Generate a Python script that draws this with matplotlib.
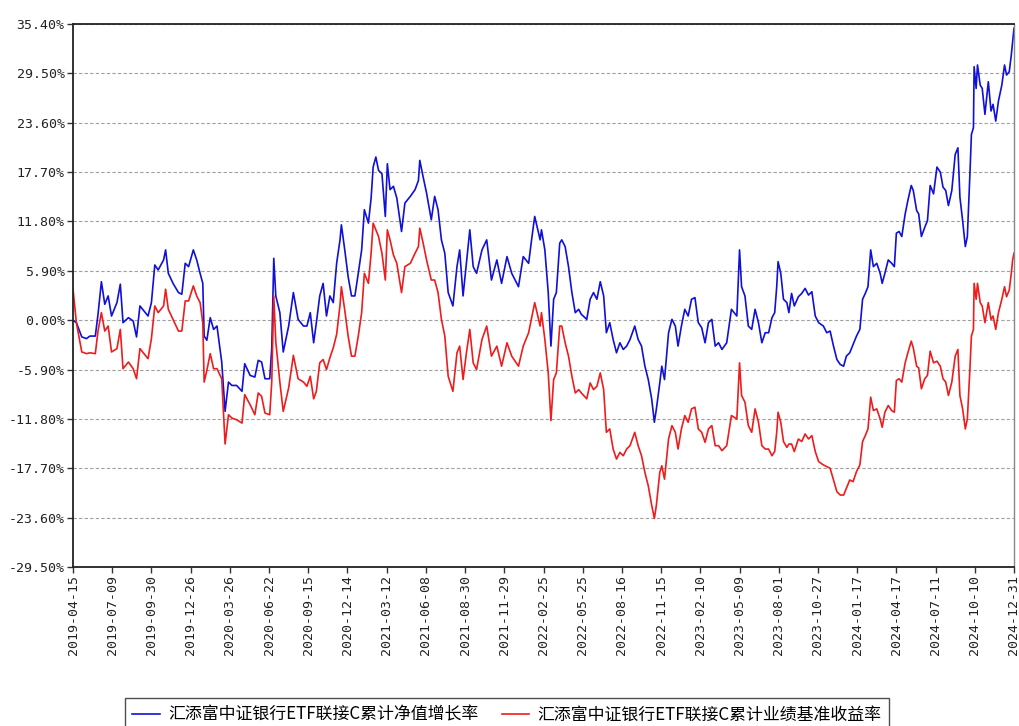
import numpy as np
import matplotlib.pyplot as plt
from matplotlib.ticker import FixedLocator, FuncFormatter

# trading-day index of each sample (0 = 2019-04-15, 1392 = 2024-12-31)
day = [0, 5, 13, 20, 25, 33, 37, 42, 47, 52, 57, 65, 70, 74, 82, 89, 94, 99, 107, 111,
       116, 121, 126, 134, 137, 141, 148, 156, 161, 166, 171, 178, 183, 188, 192, 194, 198, 203, 208, 213,
       220, 225, 230, 235, 242, 250, 254, 262, 269, 274, 279, 284, 291, 294, 297, 300, 306, 311, 319, 326,
       333, 341,
       346, 351, 356, 360, 365, 370, 375, 380, 385, 390, 395, 397, 402, 407, 412, 417, 422, 427, 431, 437,
       441, 444, 448, 452, 457, 462, 465, 469, 474, 479, 486, 491, 499, 506, 511, 513, 518, 523, 530, 535,
       540, 545, 550, 555, 562, 568, 572, 577, 582, 587, 592, 597, 605, 612, 619, 627, 634, 642, 649, 659,
       666, 674, 679, 683, 691,
       693, 698, 703, 707, 711, 715, 720, 723, 728, 733, 738, 743, 748, 752, 760, 765, 770, 775, 780, 785,
       789, 794, 799, 804, 809, 814, 819, 824, 831, 836, 841, 846, 851, 856, 860, 863, 868, 871, 875, 881,
       886, 891, 895, 900, 905, 910, 915, 920, 925, 930, 935, 940, 945, 950, 955, 960, 967, 974, 982, 986,
       989, 994, 999, 1004, 1009, 1014, 1019, 1024, 1029, 1034,
       1038, 1041, 1043, 1047, 1051, 1056, 1059, 1063, 1067, 1073, 1078, 1083, 1088, 1093, 1098, 1103, 1110, 1115, 1120, 1125,
       1130, 1135, 1140, 1144, 1149, 1154, 1159, 1164, 1168, 1172, 1176, 1180, 1184, 1189, 1194, 1197, 1201, 1206, 1211, 1215,
       1218, 1222, 1226, 1231, 1235, 1240, 1243, 1248, 1251, 1255, 1260, 1264, 1268, 1273, 1278, 1283, 1287, 1291, 1295, 1300,
       1305, 1309, 1312, 1316, 1320, 1323, 1327, 1329, 1332, 1333, 1336, 1338, 1342, 1345, 1349, 1354, 1358, 1361, 1365, 1369,
       1374, 1378, 1381, 1385, 1388, 1390, 1392]

# 累计净值增长率 (%)
nav_growth = [0.0, -0.3, -2.0, -2.2, -1.9, -1.9, 0.7, 4.6, 1.9, 2.9, 0.5, 2.1, 4.3, -0.3, 0.3, -0.1, -2.0, 1.7, 0.9, 0.5,
              2.1, 6.6, 6.0, 7.2, 8.4, 5.6, 4.4, 3.3, 3.1, 6.8, 6.4, 8.4, 7.2, 5.6, 4.4, -1.9, -2.4, 0.3, -1.1, -0.7,
              -5.0, -10.9, -7.4, -7.8, -7.8, -8.5, -5.2, -6.6, -6.8, -4.8, -5.0, -7.0, -7.0, -3.4, 7.4, 2.9, 0.9, -3.8, -0.7, 3.3,
              0.1, -0.7,
              -0.7, 0.9, -2.7, -0.3, 2.9, 4.4, 0.5, 2.9, 2.1, 6.8, 9.6, 11.4, 8.4, 5.2, 2.9, 2.9, 5.6, 8.4, 13.2, 11.6,
              14.6, 18.3, 19.5, 17.9, 17.5, 12.4, 18.7, 15.6, 16.0, 14.6, 10.6, 14.0, 14.8, 15.6, 16.7, 19.1, 17.1, 15.2, 12.0, 14.8,
              13.2, 9.6, 8.0, 3.3, 1.7, 6.4, 8.4, 2.9, 6.8, 10.8, 6.4, 5.6, 8.4, 9.6, 4.8, 7.2, 4.4, 7.6, 5.6, 4.0,
              7.6, 6.8, 10.0, 12.4, 9.6,
              10.8, 8.4, 3.3, -3.1, 2.5, 3.3, 9.2, 9.6, 8.8, 6.4, 3.3, 0.9, 1.3, 0.7, 0.1, 2.5, 3.3, 2.5, 4.6, 2.9,
              -1.5, -0.3, -2.3, -3.9, -2.7, -3.5, -3.1, -2.3, -0.7, -2.3, -3.1, -5.5, -7.1, -9.4, -12.2, -10.6, -7.5, -5.5, -7.1, -1.5,
              0.1, -0.7, -3.1, -0.7, 1.3, 0.5, 2.5, 2.7, -0.3, -0.9, -2.7, -0.3, 0.1, -3.1, -2.7, -3.5, -2.7, 1.3, 0.5, 8.4,
              4.0, 2.9, -0.7, -1.1, 1.3, -0.3, -2.7, -1.5, -1.5, 0.3,
              0.9, 4.0, 7.0, 5.6, 2.5, 2.1, 0.9, 3.2, 1.7, 2.8, 3.2, 3.8, 3.0, 3.4, 0.5, -0.3, -0.7, -1.5, -1.3, -3.1,
              -4.7, -5.3, -5.5, -4.3, -3.9, -2.9, -1.9, -1.1, 2.5, 3.2, 4.0, 8.4, 6.4, 6.8, 5.6, 4.4, 5.6, 7.2, 6.8, 6.4,
              10.4, 10.6, 10.0, 12.7, 14.3, 16.1, 15.5, 13.1, 12.7, 10.0, 11.1, 11.9, 16.1, 15.1, 18.3, 17.7, 15.9, 15.5, 13.7, 15.5,
              19.8, 20.6, 14.7, 11.9, 8.8, 10.0, 17.9, 22.2, 23.0, 30.3, 27.7, 30.5, 28.1, 27.7, 24.6, 28.5, 25.0, 25.8, 23.8, 26.2,
              28.1, 30.5, 29.3, 29.7, 31.7, 33.3, 34.9]

# 累计业绩基准收益率 (%)
bench_return = [3.7, -0.3, -3.8, -4.0, -3.9, -4.0, -1.3, 0.9, -1.3, -0.7, -3.8, -3.4, -1.1, -5.8, -5.0, -5.8, -7.0, -3.4, -4.2, -4.6,
                -2.2, 1.7, 0.9, 1.7, 3.7, 1.3, 0.1, -1.3, -1.3, 2.3, 2.3, 4.1, 2.9, 2.1, -0.3, -7.4, -6.0, -4.0, -5.8, -5.8,
                -7.0, -14.8, -11.3, -11.7, -11.9, -12.3, -8.9, -10.1, -11.3, -8.7, -9.1, -11.1, -11.3, -7.4, 2.9, -2.6, -7.4, -10.9, -8.1, -4.2,
                -7.0, -7.4,
                -7.9, -6.7, -9.4, -8.5, -5.1, -4.7, -5.9, -4.5, -3.3, -1.7, 1.8, 4.0, 1.2, -1.9, -4.3, -4.3, -1.9, 0.9, 5.6, 4.4,
                8.0, 11.6, 10.8, 10.0, 8.0, 4.8, 10.8, 9.6, 7.8, 6.8, 3.3, 6.4, 6.8, 8.0, 8.8, 11.0, 9.2, 7.2, 4.8, 4.8,
                3.3, 0.1, -1.9, -6.7, -8.5, -3.9, -3.1, -7.1, -3.9, -1.1, -5.1, -5.9, -2.3, -0.7, -4.3, -3.1, -5.5, -2.7, -4.3, -5.5,
                -3.1, -1.5, 0.5, 2.1, -0.7,
                0.9, -2.3, -6.3, -12.0, -7.1, -6.3, -0.7, -0.7, -2.7, -4.3, -6.7, -8.7, -8.3, -8.7, -9.4, -7.5, -8.3, -7.9, -6.3, -8.3,
                -13.4, -13.0, -15.4, -16.6, -15.8, -16.2, -15.4, -15.0, -13.4, -15.0, -16.2, -18.2, -19.8, -22.1, -23.7, -22.1, -18.2, -17.4, -19.0, -14.2,
                -12.6, -13.4, -15.4, -13.0, -11.4, -12.2, -10.6, -10.4, -13.0, -13.4, -14.6, -13.0, -12.6, -15.0, -15.0, -15.6, -15.0, -11.4, -11.8, -5.1,
                -9.0, -9.8, -12.6, -13.4, -10.6, -12.2, -15.0, -15.4, -15.4, -16.2,
                -15.7, -13.4, -11.0, -12.2, -14.5, -15.2, -14.8, -14.8, -15.7, -14.2, -14.5, -13.6, -14.2, -13.8, -15.7, -16.9, -17.3, -17.5, -17.7, -19.1,
                -20.5, -20.9, -20.9, -20.1, -19.1, -19.3, -18.1, -17.3, -14.5, -13.8, -13.0, -9.2, -10.8, -10.6, -11.8, -12.8, -11.0, -10.2, -10.8, -11.0,
                -7.2, -7.0, -7.4, -5.1, -3.9, -2.5, -3.3, -5.5, -5.7, -8.2, -7.0, -6.6, -3.7, -5.1, -4.9, -5.5, -7.0, -7.4, -9.0, -7.4,
                -4.3, -3.5, -9.0, -10.6, -13.0, -11.8, -5.5, -1.9, -1.1, 4.4, 2.5, 4.4, 2.1, 1.7, -0.3, 2.1, 0.1, 0.5, -1.1, 0.9,
                2.5, 4.0, 2.8, 3.6, 5.6, 7.2, 8.0]

tick_dates = ['2019-04-15', '2019-07-09', '2019-09-30', '2019-12-26', '2020-03-26', '2020-06-22',
              '2020-09-15', '2020-12-14', '2021-03-12', '2021-06-08', '2021-08-30', '2021-11-29',
              '2022-02-25', '2022-05-25', '2022-08-16', '2022-11-15', '2023-02-10', '2023-05-09',
              '2023-08-01', '2023-10-27', '2024-01-17', '2024-04-17', '2024-07-11', '2024-10-10',
              '2024-12-31']
tick_step = 58
y_ticks = [-29.5, -23.6, -17.7, -11.8, -5.9, 0.0, 5.9, 11.8, 17.7, 23.6, 29.5, 35.4]

labels = ['汇添富中证银行ETF联接C累计净值增长率', '汇添富中证银行ETF联接C累计业绩基准收益率']

plt.rcParams['font.family'] = ['Noto Sans CJK SC', 'DejaVu Sans']

fig = plt.figure(figsize=(10.19, 7.26), dpi=100)
ax = fig.add_axes([73 / 1019, 1 - 567 / 726, 941 / 1019, 543 / 726])

ax.plot(day, nav_growth, color='#1010d8', linewidth=1.2, label=labels[0])
ax.plot(day, bench_return, color='#ee1c1c', linewidth=1.2, label=labels[1])

ax.set_xlim(0, tick_step * 24)
ax.set_ylim(-29.5, 35.4)

ax.yaxis.set_major_locator(FixedLocator(y_ticks))
ax.yaxis.set_major_formatter(FuncFormatter(lambda v, p: '%.2f%%' % (0.0 if abs(v) < 1e-9 else v)))
ax.set_xticks([tick_step * i for i in range(len(tick_dates))])
ax.set_xticklabels(tick_dates, rotation=90)

for lab in ax.get_yticklabels() + ax.get_xticklabels():
    lab.set_fontfamily('DejaVu Sans Mono')
    lab.set_fontsize(9.5)
    lab.set_color('#222222')

ax.tick_params(axis='both', direction='out', length=4, width=1, color='#333333', pad=2)
ax.yaxis.grid(True, linestyle=(0, (3, 2)), color='#a0a0a0', linewidth=0.8)
ax.set_axisbelow(True)

for side in ['left', 'bottom', 'top']:
    ax.spines[side].set_color('#222222')
    ax.spines[side].set_linewidth(1.3)
ax.spines['right'].set_color('#888888')
ax.spines['right'].set_linewidth(1.0)

leg = fig.legend(loc='upper center', bbox_to_anchor=(507 / 1019, 1 - 698 / 726), ncol=2,
                 frameon=True, fancybox=False, edgecolor='#222222', fontsize=12.2,
                 handlelength=1.6, handletextpad=0.5, columnspacing=1.4,
                 borderpad=0.45, borderaxespad=0)
leg.get_frame().set_linewidth(1.0)

plt.savefig('out.png', dpi=100)
